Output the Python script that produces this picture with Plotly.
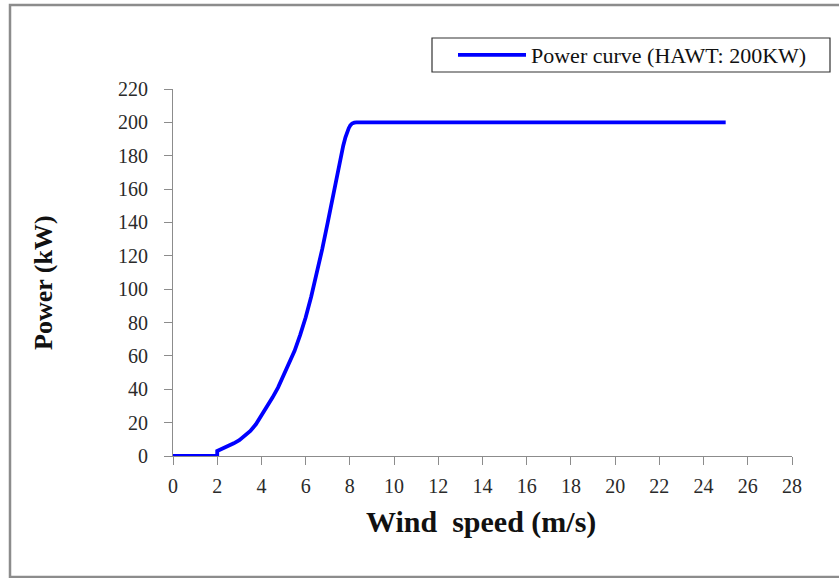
import plotly.graph_objects as go

# HAWT 200 kW power curve: wind speed (m/s) vs electrical power (kW)
wind_speed = [0, 2, 2, 2.25, 2.5, 2.75, 3, 3.25, 3.5, 3.75, 4, 4.25, 4.5, 4.75,
              5, 5.25, 5.5, 5.75, 6, 6.25, 6.5, 6.75, 7, 7.15, 7.3, 7.45, 7.6,
              7.7, 7.8, 7.88, 7.95, 8.02, 8.1, 8.2, 8.3, 8.6, 10, 15, 20, 25]
power_kw = [0, 0, 3, 4.4, 6, 7.6, 9.5, 12, 15, 19, 24, 29, 35, 41,
            48, 55, 63, 72.5, 83, 95.5, 109, 124, 140, 150, 161, 171, 180,
            186, 191, 194.3, 196.5, 198.2, 199.3, 199.8, 200, 200, 200, 200, 200, 200]

x_ticks = list(range(0, 29, 2))
y_ticks = list(range(0, 221, 20))

W, H = 839, 578
L, R, T, B = 173, 47, 89, 122
pw, ph = W - L - R, H - T - B


def px_to_paper(x, y):
    return (x - L) / pw, (H - B - y) / ph


serif = "Liberation Serif"

fig = go.Figure()
fig.add_trace(go.Scatter(
    x=wind_speed, y=power_kw, mode="lines",
    name="Power curve (HAWT: 200KW)",
    line=dict(color="#0000ff", width=3.8),
))

axis_common = dict(
    showgrid=False, zeroline=False, showline=True, linecolor="#8c8c8c",
    linewidth=1, ticks="outside", tickcolor="#8c8c8c", ticklen=8,
    tickfont=dict(family=serif, size=20, color="#2a2a2a"),
)

fig.update_xaxes(range=[0, 28], tickvals=x_ticks, ticklabelstandoff=4, **axis_common)
fig.update_yaxes(range=[0, 220], tickvals=y_ticks, ticklabelstandoff=12, **axis_common)

# outer frame
x0, y0 = px_to_paper(10, 5)
x1, y1 = px_to_paper(845, 577)
fig.add_shape(type="rect", xref="paper", yref="paper", x0=x0, y0=y1, x1=x1, y1=y0,
              line=dict(color="#8c8c8c", width=2.5), layer="below")

# legend frame
bx0, by0 = px_to_paper(432, 38)
bx1, by1 = px_to_paper(830, 72)
fig.add_shape(type="rect", xref="paper", yref="paper", x0=bx0, y0=by1, x1=bx1, y1=by0,
              line=dict(color="#333", width=1.2), fillcolor="white", layer="below")

ax, ay = px_to_paper(481, 522)
fig.add_annotation(xref="paper", yref="paper", x=ax, y=ay, showarrow=False,
                   xanchor="center", yanchor="middle",
                   text="<b>Wind  speed (m/s)</b>",
                   font=dict(family=serif, size=30, color="#111"))
tx, ty = px_to_paper(43, 283)
fig.add_annotation(xref="paper", yref="paper", x=tx, y=ty, showarrow=False,
                   xanchor="center", yanchor="middle",
                   text="<b>Power (kW)</b>", textangle=-90,
                   font=dict(family=serif, size=26, color="#111"))

lx, ly = px_to_paper(453, 55)
fig.update_layout(
    width=W, height=H,
    margin=dict(l=L, r=R, t=T, b=B),
    paper_bgcolor="white", plot_bgcolor="white",
    showlegend=True,
    legend=dict(x=lx, y=ly, xanchor="left", yanchor="middle",
                borderwidth=0, bgcolor="rgba(0,0,0,0)",
                itemwidth=68, font=dict(family=serif, size=22, color="#111")),
)

fig.write_html("out.html")
